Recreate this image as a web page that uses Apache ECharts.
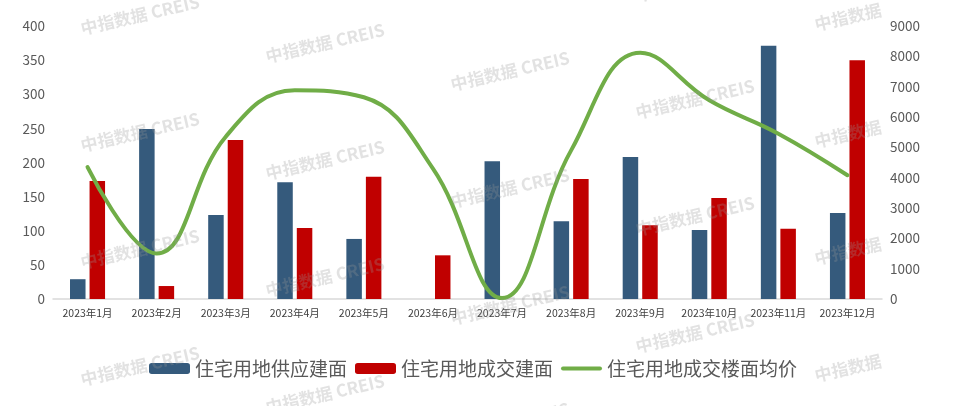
<!DOCTYPE html>
<html>
<head>
<meta charset="utf-8">
<script src="https://cdn.jsdelivr.net/npm/echarts@6/dist/echarts.min.js"></script>
<style>
html,body{margin:0;padding:0;background:#fff;}
#main{width:959px;height:406px;}
</style>
</head>
<body>
<div id="main"></div>
<script>
var categories = ['2023年1月','2023年2月','2023年3月','2023年4月','2023年5月','2023年6月','2023年7月','2023年8月','2023年9月','2023年10月','2023年11月','2023年12月'];
var supplyArea = [29, 249, 123, 171, 88, 0, 202, 114, 208, 101, 371, 126];
var dealArea = [173, 19, 233, 104, 179, 64, 0, 176, 108, 148, 103, 350];
var avgPrice = [4350, 1500, 5350, 6880, 6650, 4300, 30, 4900, 8120, 6550, 5450, 4080];
var seriesNames = ['住宅用地供应建面', '住宅用地成交建面', '住宅用地成交楼面均价'];
var watermarkText = '中指数据 CREIS';

var FONT = '"Noto Sans CJK SC", "Microsoft YaHei", sans-serif';
var graphics = [];
for (var c = 0; c < 5; c++) {
  for (var r = -1; r < 4; r++) {
    var txt = c === 4 ? '中指数据' : watermarkText;
    var cx = c === 4 ? 848 : 140 + 185 * c;
    var cy = c === 4 ? 17 + 117 * r : 15 + 28 * c + 117 * r;
    graphics.push({
      type: 'text', x: cx, y: cy, rotation: 0.227, z: 100, silent: true,
      style: { text: txt, fill: 'rgba(150,150,150,0.28)', font: 'bold 17px ' + FONT, textAlign: 'center', textVerticalAlign: 'middle' }
    });
  }
}

var chart = echarts.init(document.getElementById('main'));
chart.setOption({
  animation: false,
  backgroundColor: '#ffffff',
  textStyle: { fontFamily: FONT },
  grid: { left: 53, right: 77, top: 26, bottom: 107, containLabel: false },
  legend: {
    data: [
      { name: seriesNames[0] },
      { name: seriesNames[1] },
      { name: seriesNames[2], icon: 'path://M2,0 L39,0 A2,2 0 0 1 39,4 L2,4 A2,2 0 0 1 2,0 Z' }
    ],
    left: 144, top: 354,
    itemWidth: 41, itemHeight: 11, itemGap: 8,
    textStyle: { fontSize: 19, color: '#595959', fontFamily: FONT }
  },
  xAxis: {
    type: 'category', data: categories,
    axisLine: { lineStyle: { color: '#d9d9d9', width: 1.5 } },
    axisTick: { show: false },
    axisLabel: { fontSize: 10.5, color: '#404040', margin: 9, interval: 0 }
  },
  yAxis: [{
    type: 'value', min: 0, max: 400, interval: 50,
    splitLine: { show: false }, axisLine: { show: false }, axisTick: { show: false },
    axisLabel: { fontSize: 13.5, color: '#595959', margin: 8 }
  }, {
    type: 'value', min: 0, max: 9000, interval: 1000,
    splitLine: { show: false }, axisLine: { show: false }, axisTick: { show: false },
    axisLabel: { fontSize: 13.5, color: '#595959', margin: 8, formatter: function (v) { return String(v); } }
  }],
  series: [{
    name: seriesNames[0], type: 'bar', data: supplyArea, barWidth: 15.5, barGap: '26%',
    itemStyle: { color: '#355a7c' }
  }, {
    name: seriesNames[1], type: 'bar', data: dealArea, barWidth: 15.5, barGap: '26%',
    itemStyle: { color: '#c00000' }
  }, {
    name: seriesNames[2], type: 'line', yAxisIndex: 1, data: avgPrice, smooth: 0.42,
    symbol: 'none', lineStyle: { color: '#70ad47', width: 4, cap: 'round' }, itemStyle: { color: '#70ad47' }
  }],
  graphic: graphics
});
</script>
</body>
</html>
